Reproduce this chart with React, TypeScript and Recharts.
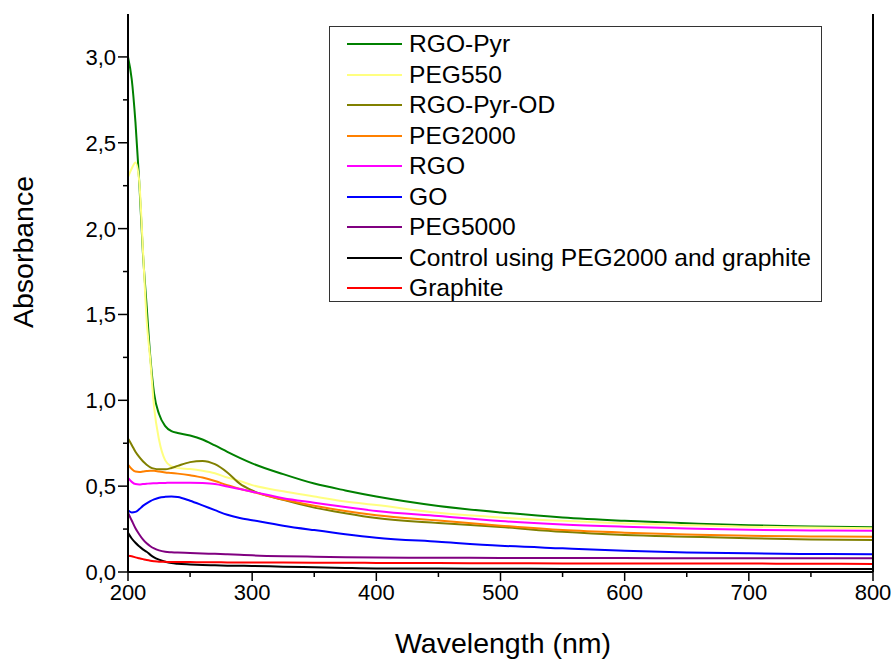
import { LineChart, Line, XAxis, YAxis, Legend } from 'recharts';

// wavelength grid (nm)
const wavelength = [200, 203, 206, 209, 212, 215, 218, 221, 225, 230, 235, 240, 250, 260, 270, 280, 290, 300, 325, 350, 375, 400, 450, 500, 550, 600, 650, 700, 750, 800];

const rgoPyr = [3.0, 2.87, 2.62, 2.28, 1.86, 1.55, 1.25, 1.04, 0.92, 0.85, 0.82, 0.81, 0.795, 0.772, 0.737, 0.7, 0.665, 0.633, 0.57, 0.515, 0.475, 0.44, 0.385, 0.347, 0.317, 0.298, 0.284, 0.272, 0.265, 0.26];
const peg550 = [2.3, 2.35, 2.385, 2.28, 1.88, 1.47, 1.23, 0.96, 0.77, 0.65, 0.615, 0.605, 0.6, 0.59, 0.575, 0.55, 0.53, 0.506, 0.47, 0.44, 0.41, 0.39, 0.345, 0.318, 0.298, 0.283, 0.273, 0.264, 0.259, 0.255];
const rgoPyrOd = [0.777, 0.74, 0.7, 0.67, 0.645, 0.625, 0.61, 0.602, 0.598, 0.598, 0.606, 0.618, 0.64, 0.647, 0.628, 0.58, 0.515, 0.475, 0.42, 0.375, 0.342, 0.314, 0.285, 0.262, 0.234, 0.216, 0.206, 0.197, 0.19, 0.186];
const peg2000 = [0.626, 0.6, 0.585, 0.583, 0.585, 0.588, 0.59, 0.59, 0.585, 0.58, 0.577, 0.573, 0.563, 0.55, 0.53, 0.505, 0.485, 0.467, 0.422, 0.386, 0.355, 0.33, 0.3, 0.27, 0.244, 0.229, 0.219, 0.211, 0.207, 0.205];
const rgo = [0.548, 0.525, 0.512, 0.51, 0.512, 0.514, 0.516, 0.517, 0.518, 0.519, 0.52, 0.52, 0.52, 0.518, 0.512, 0.498, 0.483, 0.468, 0.43, 0.404, 0.378, 0.355, 0.326, 0.297, 0.277, 0.264, 0.254, 0.246, 0.242, 0.24];
const go = [0.36, 0.347, 0.35, 0.365, 0.385, 0.4, 0.413, 0.423, 0.433, 0.438, 0.44, 0.437, 0.415, 0.388, 0.36, 0.333, 0.315, 0.302, 0.27, 0.244, 0.22, 0.2, 0.176, 0.153, 0.138, 0.124, 0.114, 0.109, 0.105, 0.103];
const peg5000 = [0.345, 0.3, 0.255, 0.22, 0.19, 0.167, 0.15, 0.137, 0.126, 0.118, 0.115, 0.113, 0.111, 0.108, 0.106, 0.103, 0.1, 0.097, 0.092, 0.089, 0.086, 0.084, 0.083, 0.082, 0.081, 0.081, 0.08, 0.08, 0.08, 0.08];
const control = [0.228, 0.195, 0.17, 0.15, 0.132, 0.118, 0.1, 0.085, 0.072, 0.06, 0.052, 0.048, 0.044, 0.041, 0.039, 0.037, 0.036, 0.035, 0.031, 0.028, 0.024, 0.021, 0.02, 0.019, 0.018, 0.018, 0.017, 0.017, 0.017, 0.017];
const graphite = [0.095, 0.092, 0.085, 0.08, 0.075, 0.07, 0.066, 0.063, 0.06, 0.059, 0.058, 0.058, 0.058, 0.057, 0.057, 0.056, 0.056, 0.056, 0.055, 0.054, 0.054, 0.053, 0.052, 0.051, 0.05, 0.05, 0.049, 0.049, 0.048, 0.047];

const xTicks = [200, 250, 300, 350, 400, 450, 500, 550, 600, 650, 700, 750, 800];
const yTicks = [0, 0.25, 0.5, 0.75, 1, 1.25, 1.5, 1.75, 2, 2.25, 2.5, 2.75, 3];

const series = [
  { key: 'rgoPyr', name: 'RGO-Pyr', color: '#008000', values: rgoPyr },
  { key: 'peg550', name: 'PEG550', color: '#FFFF80', values: peg550 },
  { key: 'rgoPyrOd', name: 'RGO-Pyr-OD', color: '#808000', values: rgoPyrOd },
  { key: 'peg2000', name: 'PEG2000', color: '#FF8000', values: peg2000 },
  { key: 'rgo', name: 'RGO', color: '#FF00FF', values: rgo },
  { key: 'go', name: 'GO', color: '#0000FF', values: go },
  { key: 'peg5000', name: 'PEG5000', color: '#800080', values: peg5000 },
  { key: 'control', name: 'Control using PEG2000 and graphite', color: '#000000', values: control },
  { key: 'graphite', name: 'Graphite', color: '#FF0000', values: graphite },
];

const data = wavelength.map((w, i) => {
  const row: Record<string, number> = { w };
  series.forEach(s => { row[s.key] = s.values[i]; });
  return row;
});

const FONT = '"Liberation Sans", Arial, sans-serif';

function BottomTick({ x, y, payload }: any) {
  const major = payload.value % 100 === 0;
  return (
    <g>
      <line x1={x} x2={x} y1={y} y2={y + (major ? 9 : 5)} stroke="#000" strokeWidth={1.5} />
      {major && (
        <text x={x} y={y + 28} textAnchor="middle" fontSize={22} fontFamily={FONT} fill="#000">
          {payload.value}
        </text>
      )}
    </g>
  );
}

function TopTick({ x, y }: any) {
  return <line x1={x} x2={x} y1={y} y2={y - 3} stroke="#000" strokeWidth={1} />;
}

function LeftTick({ x, y, payload }: any) {
  const major = Math.abs(payload.value * 2 - Math.round(payload.value * 2)) < 1e-6;
  return (
    <g>
      <line x1={x - (major ? 10 : 5)} x2={x} y1={y} y2={y} stroke="#000" strokeWidth={1.5} />
      {major && (
        <text x={x - 12} y={y} dy="0.36em" textAnchor="end" fontSize={22} fontFamily={FONT} fill="#000">
          {payload.value.toFixed(1).replace('.', ',')}
        </text>
      )}
    </g>
  );
}

// legend keeps the series order, not alphabetical
function renderLegend({ payload }: any) {
  const order = series.map(s => s.name);
  const items = [...(payload || [])].sort((a: any, b: any) => order.indexOf(a.value) - order.indexOf(b.value));
  return (
    <div style={{ width: 493, height: 276, border: '1.5px solid #333', boxSizing: 'border-box', position: 'relative', background: '#fff', fontFamily: FONT }}>
      {items.map((item: any, i: number) => (
        <div key={item.value} style={{ position: 'absolute', left: 0, top: 3 + i * 30.5, height: 28, lineHeight: '28px', width: '100%' }}>
          <svg width={60} height={28} style={{ position: 'absolute', left: 17, top: 0 }}>
            <line x1={0} x2={55} y1={14} y2={14} stroke={item.color} strokeWidth={2} />
          </svg>
          <span style={{ position: 'absolute', left: 79, top: 0, fontSize: 24.6, color: '#000', whiteSpace: 'nowrap' }}>
            {item.value}
          </span>
        </div>
      ))}
    </div>
  );
}

export default function App() {
  return (
    <div style={{ position: 'absolute', left: 0, top: 0, width: 894, height: 661, background: '#fff' }}>
      <LineChart width={894} height={661} data={data} margin={{ top: 14, right: 20, bottom: 0, left: 0 }}>
        <XAxis
          xAxisId="bottom"
          dataKey="w"
          type="number"
          domain={[200, 800]}
          ticks={xTicks}
          interval={0}
          height={89}
          tickSize={0}
          tickMargin={0}
          tickLine={false}
          axisLine={{ stroke: '#000', strokeWidth: 2 }}
          tick={BottomTick}
          label={() => (
            <text x={503} y={653} textAnchor="middle" fontSize={28.5} fontFamily={FONT} fill="#000">
              Wavelength (nm)
            </text>
          )}
        />
        <XAxis
          xAxisId="top"
          orientation="top"
          dataKey="w"
          type="number"
          domain={[200, 800]}
          ticks={xTicks}
          interval={0}
          height={0}
          tickSize={0}
          tickMargin={0}
          tickLine={false}
          axisLine={{ stroke: '#000', strokeWidth: 2 }}
          tick={TopTick}
        />
        <YAxis
          yAxisId="left"
          type="number"
          domain={[0, 3.25]}
          ticks={yTicks}
          interval={0}
          width={128}
          tickSize={0}
          tickMargin={0}
          tickLine={false}
          allowDataOverflow
          axisLine={{ stroke: '#000', strokeWidth: 2 }}
          tick={LeftTick}
          label={() => (
            <text x={33} y={252} transform="rotate(-90 33 252)" textAnchor="middle" fontSize={28.5} fontFamily={FONT} fill="#000">
              Absorbance
            </text>
          )}
        />
        <YAxis
          yAxisId="right"
          orientation="right"
          type="number"
          domain={[0, 3.25]}
          width={1}
          tick={false}
          tickLine={false}
          axisLine={{ stroke: '#000', strokeWidth: 2 }}
        />
        <Legend
          layout="vertical"
          align="center"
          verticalAlign="middle"
          content={renderLegend}
          wrapperStyle={{ position: 'absolute', left: 329, top: 26, width: 493, height: 276 }}
        />
        {series.map(s => (
          <Line
            key={s.key}
            xAxisId="bottom"
            yAxisId="left"
            type="monotone"
            dataKey={s.key}
            name={s.name}
            stroke={s.color}
            strokeWidth={2}
            dot={false}
            isAnimationActive={false}
          />
        ))}
      </LineChart>
    </div>
  );
}
